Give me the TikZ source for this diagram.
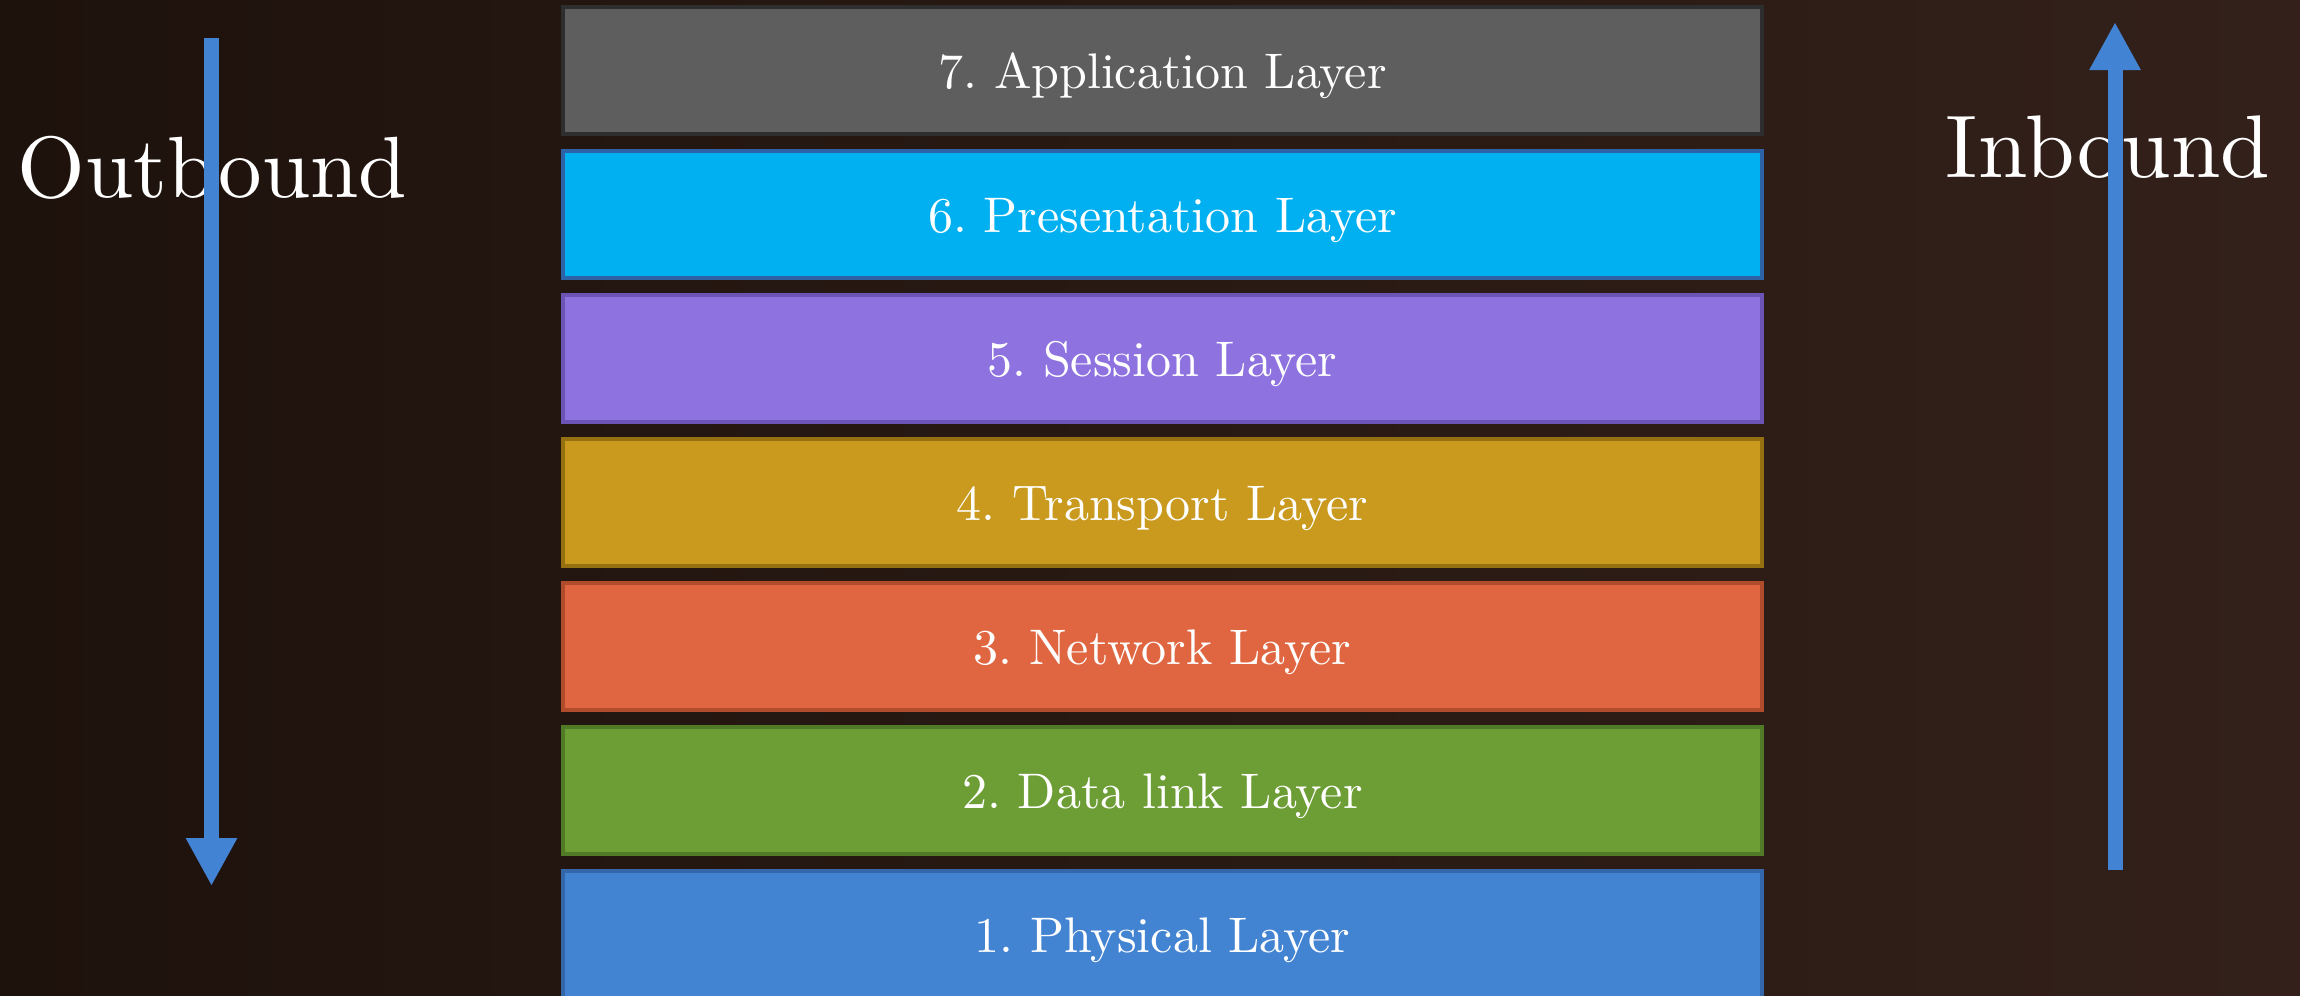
\documentclass[tikz,border=0pt]{standalone}
\usepackage{fontspec}
\setmainfont{lmroman10-regular.otf}
\usetikzlibrary{arrows.meta}
\definecolor{woodA}{HTML}{1E120C}
\definecolor{woodB}{HTML}{33201A}
\definecolor{arrowblue}{HTML}{4383D3}
\definecolor{f7}{HTML}{5E5E5E}\definecolor{d7}{HTML}{2E2E2E}
\definecolor{f6}{HTML}{00B0F0}\definecolor{d6}{HTML}{2E62A6}
\definecolor{f5}{HTML}{8E72E0}\definecolor{d5}{HTML}{6C54B6}
\definecolor{f4}{HTML}{C99A1E}\definecolor{d4}{HTML}{957010}
\definecolor{f3}{HTML}{E06641}\definecolor{d3}{HTML}{B04C2C}
\definecolor{f2}{HTML}{6D9D35}\definecolor{d2}{HTML}{517A26}
\definecolor{f1}{HTML}{4283D2}\definecolor{d1}{HTML}{3466AA}
\tikzset{
  layerbox/.style={rectangle, line width=4pt, minimum width=1199pt, minimum height=127pt,
    inner sep=0pt, text=white, text height=37pt, text depth=0pt,
    font=\frenchspacing\fontsize{50}{56}\selectfont},
  bigtext/.style={text=white, anchor=base, inner sep=0pt},
  flow/.style={arrowblue, line width=15pt, -{Triangle[width=48pt,length=48pt]}}
}
\begin{document}
\begin{tikzpicture}[x=1pt,y=-1pt]
\useasboundingbox (0,0) rectangle (2300,996);
\shade[left color=woodA, right color=woodB] (0,0) rectangle (2300,996);
\node[layerbox, fill=f7, draw=d7] (l7) at (1162.5,70) {7. Application Layer};
\node[layerbox, fill=f6, draw=d6] (l6) at (1162.5,214) {6. Presentation Layer};
\node[layerbox, fill=f5, draw=d5] (l5) at (1162.5,358) {5. Session Layer};
\node[layerbox, fill=f4, draw=d4] (l4) at (1162.5,502) {4. Transport Layer};
\node[layerbox, fill=f3, draw=d3] (l3) at (1162.5,646) {3. Network Layer};
\node[layerbox, fill=f2, draw=d2] (l2) at (1162.5,790) {2. Data link Layer};
\node[layerbox, fill=f1, draw=d1] (l1) at (1162.5,934) {1. Physical Layer};
\node[bigtext, font=\fontsize{87}{96}\selectfont] (out) at (212.5,197) {Outbound};
\node[bigtext, font=\fontsize{89}{98}\selectfont] (in) at (2108,177) {Inbound};
\coordinate (outS) at (211.5,38);
\coordinate (outE) at (211.5,886);
\coordinate (inS) at (2115,870);
\coordinate (inE) at (2115,22);
\draw[flow] (outS) -- (outE);
\draw[flow] (inS) -- (inE);
\end{tikzpicture}
\end{document}
